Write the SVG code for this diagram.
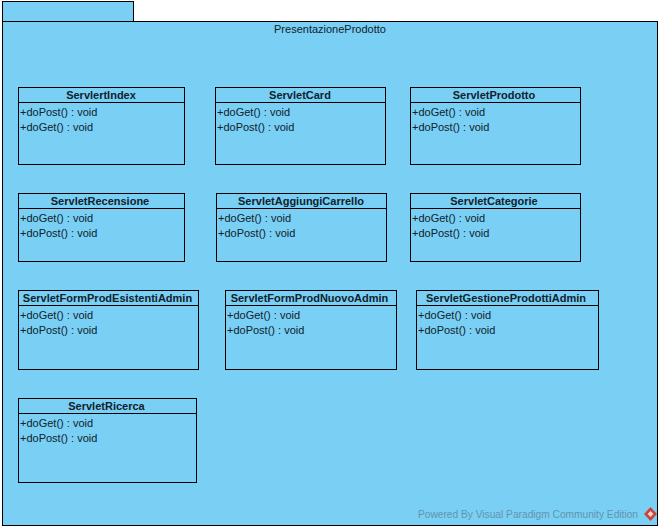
<svg xmlns="http://www.w3.org/2000/svg" width="662" height="531" viewBox="0 0 662 531">
<style>
text{font-family:"Liberation Sans",Arial,sans-serif;font-size:11px;fill:#10222c}
.b{fill:#7acff5;stroke:#000;stroke-width:1}
.l{stroke:#000;stroke-width:1;fill:none}
.t{font-weight:bold;text-anchor:middle}
.wm{fill:#5f95ad}
</style>
<rect width="662" height="531" fill="#fff"/>
<g id="package">
<rect class="b" x="2.5" y="1.5" width="131" height="20"/>
<rect class="b" x="2.5" y="21.5" width="655" height="504"/>
<text x="330" y="33" text-anchor="middle">PresentazioneProdotto</text>
</g>
<g id="connectors"></g>
<g id="ServlertIndex"><rect class="b" x="18.5" y="87.5" width="166" height="77"/><path class="l" d="M18.5 102.5H184.5"/><text class="t" x="101" y="99">ServlertIndex</text><text x="20" y="116">+doPost() : void</text><text x="20" y="131">+doGet() : void</text></g>
<g id="ServletCard"><rect class="b" x="215.5" y="87.5" width="170" height="77"/><path class="l" d="M215.5 102.5H385.5"/><text class="t" x="300" y="99">ServletCard</text><text x="217" y="116">+doGet() : void</text><text x="217" y="131">+doPost() : void</text></g>
<g id="ServletProdotto"><rect class="b" x="410.5" y="87.5" width="170" height="77"/><path class="l" d="M410.5 102.5H580.5"/><text class="t" x="494" y="99">ServletProdotto</text><text x="412" y="116">+doGet() : void</text><text x="412" y="131">+doPost() : void</text></g>
<g id="ServletRecensione"><rect class="b" x="18.5" y="193.5" width="166" height="68"/><path class="l" d="M18.5 208.5H184.5"/><text class="t" x="100" y="205">ServletRecensione</text><text x="20" y="222">+doGet() : void</text><text x="20" y="237">+doPost() : void</text></g>
<g id="ServletAggiungiCarrello"><rect class="b" x="216.5" y="193.5" width="170" height="68"/><path class="l" d="M216.5 208.5H386.5"/><text class="t" x="301" y="205">ServletAggiungiCarrello</text><text x="218" y="222">+doGet() : void</text><text x="218" y="237">+doPost() : void</text></g>
<g id="ServletCategorie"><rect class="b" x="410.5" y="193.5" width="170" height="68"/><path class="l" d="M410.5 208.5H580.5"/><text class="t" x="494" y="205">ServletCategorie</text><text x="412" y="222">+doGet() : void</text><text x="412" y="237">+doPost() : void</text></g>
<g id="ServletFormProdEsistentiAdmin"><rect class="b" x="18.5" y="290.5" width="180" height="79"/><path class="l" d="M18.5 305.5H198.5"/><text class="t" x="107.5" y="302">ServletFormProdEsistentiAdmin</text><text x="20" y="319">+doGet() : void</text><text x="20" y="334">+doPost() : void</text></g>
<g id="ServletFormProdNuovoAdmin"><rect class="b" x="225.5" y="290.5" width="171" height="79"/><path class="l" d="M225.5 305.5H396.5"/><text class="t" x="309.5" y="302">ServletFormProdNuovoAdmin</text><text x="227" y="319">+doGet() : void</text><text x="227" y="334">+doPost() : void</text></g>
<g id="ServletGestioneProdottiAdmin"><rect class="b" x="416.5" y="290.5" width="182" height="79"/><path class="l" d="M416.5 305.5H598.5"/><text class="t" x="506" y="302">ServletGestioneProdottiAdmin</text><text x="418" y="319">+doGet() : void</text><text x="418" y="334">+doPost() : void</text></g>
<g id="ServletRicerca"><rect class="b" x="18.5" y="398.5" width="178" height="84"/><path class="l" d="M18.5 413.5H196.5"/><text class="t" x="106.5" y="410">ServletRicerca</text><text x="20" y="427">+doGet() : void</text><text x="20" y="442">+doPost() : void</text></g>
<g id="watermark"><text class="wm" x="418" y="518" textLength="220" lengthAdjust="spacingAndGlyphs">Powered By  Visual Paradigm Community Edition</text>
<path d="M650.5 507L657 514L650.5 521L644 514Z" fill="#c8433c"/><path d="M650.5 511L653.5 514L650.5 517L647.5 514Z" fill="#f2d0c0"/></g>
</svg>
